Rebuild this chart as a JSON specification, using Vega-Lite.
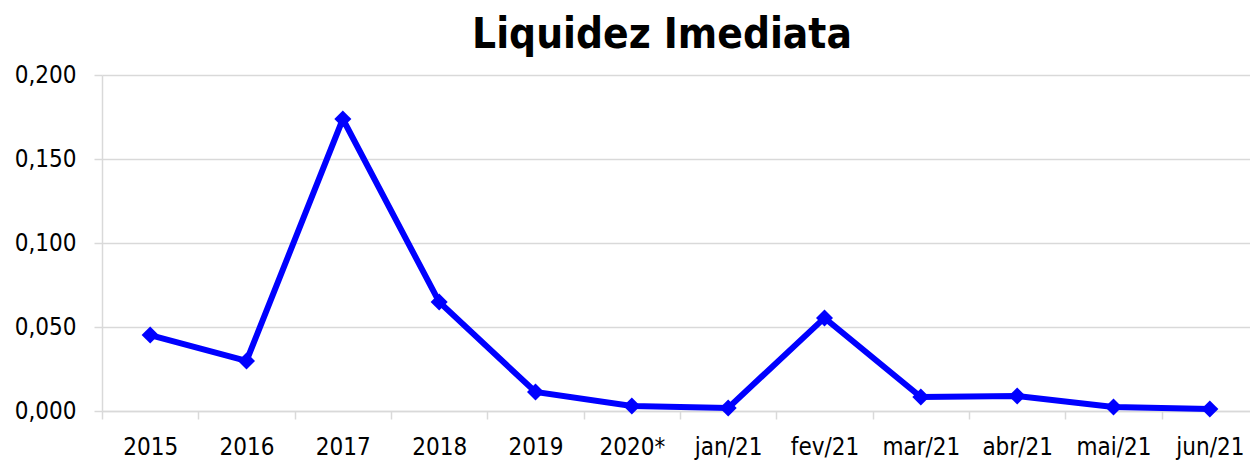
{
  "$schema": "https://vega.github.io/schema/vega-lite/v6.json",
  "autosize": "none",
  "width": 1156,
  "height": 336,
  "padding": {"left": 102, "top": 75, "right": 0, "bottom": 50},
  "background": "white",
  "title": {
    "text": "Liquidez Imediata",
    "font": "DejaVu Sans Condensed",
    "fontWeight": "bold",
    "fontSize": 42,
    "color": "#000000",
    "anchor": "middle",
    "baseline": "alphabetic",
    "dx": -18,
    "dy": 41,
    "offset": 14
  },
  "data": {
    "values": [
      {"periodo": "2015", "valor": 0.0452},
      {"periodo": "2016", "valor": 0.0298},
      {"periodo": "2017", "valor": 0.1738},
      {"periodo": "2018", "valor": 0.0649},
      {"periodo": "2019", "valor": 0.0113},
      {"periodo": "2020*", "valor": 0.0030},
      {"periodo": "jan/21", "valor": 0.0018},
      {"periodo": "fev/21", "valor": 0.0554},
      {"periodo": "mar/21", "valor": 0.0083},
      {"periodo": "abr/21", "valor": 0.0089},
      {"periodo": "mai/21", "valor": 0.0024},
      {"periodo": "jun/21", "valor": 0.0012}
    ]
  },
  "config": {
    "view": {"stroke": null},
    "axis": {"labelFont": "DejaVu Sans Condensed", "labelFontSize": 24, "labelColor": "#000000"}
  },
  "encoding": {
    "x": {
      "field": "periodo",
      "type": "ordinal",
      "sort": null,
      "scale": {"paddingInner": 0, "paddingOuter": 0},
      "axis": {
        "title": null,
        "labelAngle": 0,
        "tickBand": "extent",
        "tickSize": 8,
        "tickColor": "#d9d9d9",
        "domainColor": "#d9d9d9",
        "domainWidth": 1.5,
        "tickWidth": 1.5,
        "labelPadding": 16,
        "labelBaseline": "top"
      }
    },
    "y": {
      "field": "valor",
      "type": "quantitative",
      "scale": {"domain": [0, 0.2], "nice": false},
      "axis": {
        "title": null,
        "values": [0, 0.05, 0.1, 0.15, 0.2],
        "labelExpr": "replace(format(datum.value, '.3f'), '.', ',')",
        "tickSize": 8,
        "tickColor": "#d9d9d9",
        "tickWidth": 1.5,
        "domainColor": "#d9d9d9",
        "domainWidth": 1.5,
        "gridColor": "#d9d9d9",
        "gridWidth": 1.5,
        "labelPadding": 18
      }
    }
  },
  "layer": [
    {"mark": {"type": "line", "color": "#0000ff", "strokeWidth": 6}},
    {"mark": {"type": "point", "shape": "diamond", "filled": true, "color": "#0000ff", "size": 290, "opacity": 1}}
  ]
}
